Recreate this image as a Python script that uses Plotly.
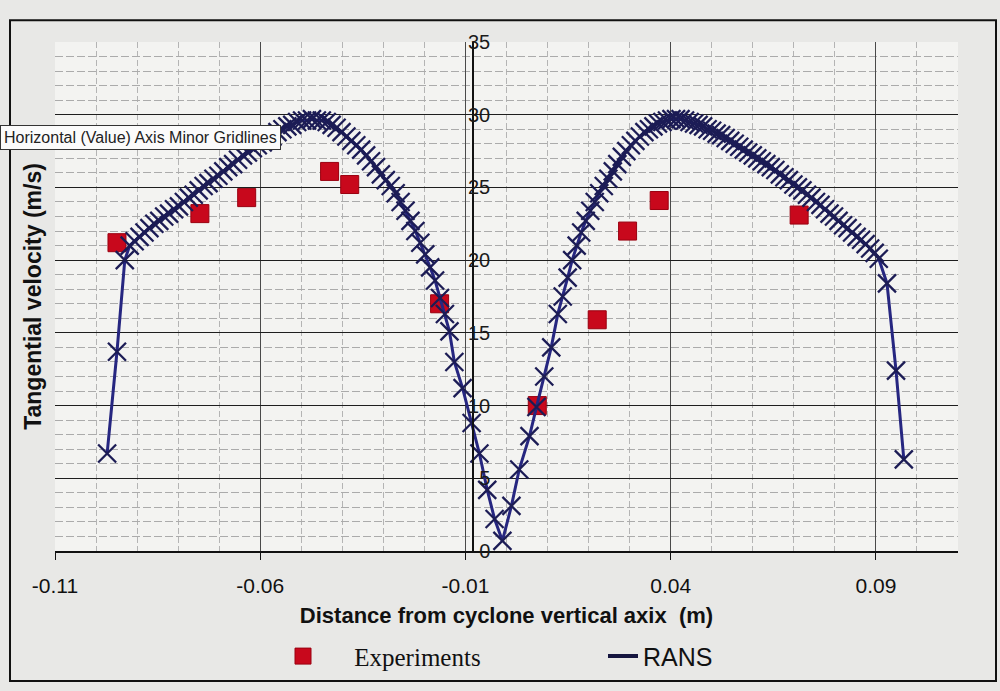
import plotly.graph_objects as go

# ---------------- data ----------------
exp_x = [-0.0949, -0.0747, -0.0633, -0.0431, -0.0382, -0.0163,
         0.0075, 0.0221, 0.0295, 0.0372, 0.0713]
exp_y = [21.2, 23.2, 24.3, 26.1, 25.2, 17.0,
         10.0, 15.9, 22.0, 24.1, 23.1]

rans_x = [
    -0.0973, -0.0949, -0.0930,
    -0.0918, -0.0906, -0.0894, -0.0882, -0.0870, -0.0858, -0.0846, -0.0834,
    -0.0822, -0.0810, -0.0798, -0.0786, -0.0774, -0.0762, -0.0750, -0.0738,
    -0.0726, -0.0714, -0.0702, -0.0690, -0.0678, -0.0666, -0.0654, -0.0642,
    -0.0630, -0.0618, -0.0606, -0.0594, -0.0582, -0.0570, -0.0558, -0.0546,
    -0.0534, -0.0522, -0.0510, -0.0498, -0.0486, -0.0474, -0.0462, -0.0450,
    -0.0438, -0.0426, -0.0414, -0.0402, -0.0390, -0.0378, -0.0366, -0.0354,
    -0.0342, -0.0330, -0.0318, -0.0306, -0.0294, -0.0282, -0.0270, -0.0258,
    -0.0246, -0.0234, -0.0222, -0.0210, -0.0198, -0.0186, -0.0174, -0.0162,
    -0.0150, -0.0139,
    -0.0127, -0.0107, -0.0085, -0.0066, -0.0047, -0.0029, -0.0010,
    0.0012, 0.0031, 0.0056, 0.0073, 0.0092, 0.0109,
    0.0125, 0.0137, 0.0149, 0.0160, 0.0171, 0.0182, 0.0193, 0.0204, 0.0215,
    0.0226, 0.0237, 0.0248, 0.0259, 0.0270, 0.0281, 0.0292, 0.0303, 0.0314,
    0.0325, 0.0336, 0.0347, 0.0358, 0.0369, 0.0380, 0.0391, 0.0402, 0.0413,
    0.0424, 0.0435, 0.0446, 0.0457, 0.0468, 0.0479, 0.0490, 0.0501, 0.0512,
    0.0523, 0.0534, 0.0545, 0.0556, 0.0567, 0.0578, 0.0589, 0.0600, 0.0611,
    0.0622, 0.0633, 0.0644, 0.0655, 0.0666, 0.0677, 0.0688, 0.0699, 0.0710,
    0.0721, 0.0732, 0.0743, 0.0754, 0.0765, 0.0776, 0.0787, 0.0798, 0.0809,
    0.0820, 0.0831, 0.0842, 0.0853, 0.0864, 0.0875, 0.0886, 0.0897, 0.0907,
    0.0927, 0.0949, 0.0968,
]
rans_y = [
    6.7, 13.7, 20.0,
    21.0, 21.3, 21.6, 21.9, 22.2, 22.5, 22.7, 23.0,
    23.2, 23.5, 23.7, 24.0, 24.3, 24.5, 24.8, 25.1,
    25.3, 25.6, 25.8, 26.1, 26.4, 26.6, 26.9, 27.2,
    27.4, 27.7, 27.9, 28.1, 28.3, 28.5, 28.8, 29.0,
    29.2, 29.3, 29.5, 29.6, 29.6, 29.7, 29.6, 29.6,
    29.5, 29.3, 29.1, 28.8, 28.5, 28.2, 27.9, 27.6,
    27.2, 26.8, 26.4, 25.9, 25.5, 25.1, 24.6, 24.0,
    23.4, 22.7, 22.0, 21.2, 20.4, 19.5, 18.6, 17.4,
    16.3, 15.1,
    13.0, 11.2, 8.8, 6.7, 4.2, 2.2, 0.7,
    3.1, 5.6, 7.9, 9.9, 12.0, 14.0,
    16.3, 17.5, 18.8, 20.0, 21.0, 21.9, 22.7, 23.4, 24.0,
    24.6, 25.1, 25.6, 26.1, 26.6, 27.1, 27.5, 27.9, 28.2,
    28.5, 28.8, 29.0, 29.2, 29.4, 29.5, 29.6, 29.7, 29.7,
    29.7, 29.6, 29.5, 29.4, 29.3, 29.2, 29.0, 28.9, 28.7,
    28.6, 28.4, 28.2, 28.0, 27.8, 27.6, 27.4, 27.2, 27.0,
    26.8, 26.6, 26.4, 26.2, 25.9, 25.7, 25.5, 25.2, 25.0,
    24.8, 24.5, 24.3, 24.0, 23.8, 23.5, 23.2, 23.0, 22.7,
    22.4, 22.2, 21.9, 21.6, 21.4, 21.1, 20.8, 20.5, 20.1,
    18.4, 12.4, 6.3,
]

x_tick_vals = [-0.11, -0.06, -0.01, 0.04, 0.09]
x_tick_text = ["-0.11", "-0.06", "-0.01", "0.04", "0.09"]
y_tick_vals = [0, 5, 10, 15, 20, 25, 30, 35]
y_tick_text = ["0", "5", "10", "15", "20", "25", "30", "35"]

x_range = [-0.11, 0.11]
y_range = [0, 35]

# ---------------- figure ----------------
W, H = 1000, 691
ML, MR, MT, MB = 55, 42, 42, 136
PW, PH = W - ML - MR, H - MT - MB


def px_x(p):
    return (p - ML) / PW


def px_y(p):
    return (H - MB - p) / PH


SANS = "Liberation Sans, Arial, sans-serif"
SERIF = "Liberation Serif, Times New Roman, serif"

fig = go.Figure()

fig.add_trace(go.Scatter(
    x=exp_x, y=exp_y, mode="markers",
    name="\u00a0\u00a0\u00a0\u00a0\u00a0Experiments",
    marker=dict(symbol="square", size=18, color="#c8081c",
                line=dict(color="#9a0010", width=1)),
))

fig.add_trace(go.Scatter(
    x=rans_x, y=rans_y, mode="lines+markers", name="RANS", showlegend=False,
    legendgroup="rans",
    line=dict(color="#262680", width=3),
    marker=dict(symbol="x-thin", size=18, color="#1c1c55",
                line=dict(color="#1c1c55", width=2.3)),
))
# legend entry for RANS (line only, as in the original legend)
fig.add_trace(go.Scatter(
    x=[None], y=[None], mode="lines",
    name='<span style="font-family:Liberation Sans, Arial, sans-serif">RANS</span>',
    legendgroup="rans",
    line=dict(color="#15153f", width=4),
))

fig.update_layout(
    width=W, height=H,
    margin=dict(l=ML, r=MR, t=MT, b=MB),
    paper_bgcolor="#e8e8e6",
    plot_bgcolor="#f3f3f1",
    font=dict(family=SANS, color="#111111"),
    showlegend=True,
    legend=dict(
        orientation="h", x=px_x(283), xanchor="left", y=px_y(638), yanchor="top",
        bgcolor="rgba(0,0,0,0)", font=dict(size=25, family=SERIF, color="#111"),
        entrywidth=275, entrywidthmode="pixels", itemwidth=30,
    ),
    xaxis=dict(
        range=x_range, tickmode="array", tickvals=x_tick_vals, ticktext=x_tick_text,
        showgrid=True, gridcolor="#4a4a4a", gridwidth=1,
        zeroline=False,
        showline=True, linecolor="#111111", linewidth=1.5,
        ticks="outside", ticklen=7, tickcolor="#111111",
        ticklabelstandoff=8,
        tickfont=dict(size=21, family=SANS, color="#111"),
        minor=dict(tick0=-0.11, dtick=0.01, showgrid=True, gridcolor="#b4b4b4",
                   griddash="6px,3px", gridwidth=1),
        title=dict(text="<b>Distance from cyclone vertical axix  (m)</b>",
                   font=dict(size=22, family=SANS, color="#111"),
                   standoff=12),
    ),
    yaxis=dict(
        range=y_range, tickmode="array", tickvals=y_tick_vals,
        showgrid=True, gridcolor="#1e1e1e", gridwidth=1.4,
        zeroline=False, showline=False, showticklabels=False, ticks="",
        minor=dict(dtick=1, showgrid=True, gridcolor="#ababab", griddash="8px,3px",
                   gridwidth=1),
        title=dict(text="<b>Tangential velocity (m/s)</b>",
                   font=dict(size=23, family=SANS, color="#111"),
                   standoff=5),
    ),
    yaxis2=dict(
        range=y_range, tickmode="array", tickvals=y_tick_vals, ticktext=y_tick_text,
        overlaying="y", anchor="free",
        position=px_x(473), side="left",
        showgrid=False, zeroline=False,
        showline=True, linecolor="#111111", linewidth=1.5,
        ticks="inside", ticklen=6, tickcolor="#111111",
        ticklabelstandoff=-22,
        tickfont=dict(size=20, family=SANS, color="#1a1a1a"),
    ),
)

# invisible companion trace so the overlay axis is drawn
fig.add_trace(go.Scatter(x=[None], y=[None], yaxis="y2", showlegend=False,
                         hoverinfo="skip"))

# outer chart border
fig.add_shape(type="rect", xref="paper", yref="paper",
              x0=px_x(10), x1=px_x(996), y0=px_y(686), y1=px_y(20),
              line=dict(color="#111111", width=2), fillcolor="rgba(0,0,0,0)",
              layer="below")

# Excel tooltip visible in the photographed chart
fig.add_annotation(
    xref="paper", yref="paper", x=px_x(0), y=px_y(138), xanchor="left", yanchor="middle",
    text="Horizontal (Value) Axis Minor Gridlines", showarrow=False,
    font=dict(size=16, family=SANS, color="#222"),
    bgcolor="#fbfbfb", bordercolor="#333333", borderwidth=1, borderpad=3,
)

fig.write_html("out.html")
